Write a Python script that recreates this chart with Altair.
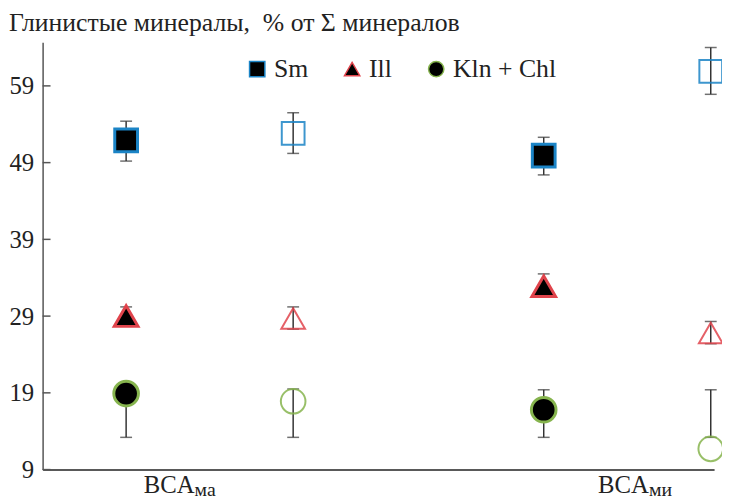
import altair as alt
import pandas as pd

# ---- data ----
minerals = ["Sm", "Ill", "Kln + Chl"]
point_x = [1.0, 2.0, 3.5, 4.5]
point_kind = ["filled", "open", "filled", "open"]

sm_mean = [51.9, 52.8, 49.9, 60.9]
sm_lo = [49.2, 50.2, 47.4, 57.9]
sm_hi = [54.4, 55.5, 52.3, 64.0]

ill_mean = [29.0, 28.7, 32.9, 26.8]
ill_lo = [27.8, 27.3, 31.5, 25.4]
ill_hi = [30.2, 30.2, 34.5, 28.3]

kln_mean = [18.9, 17.9, 16.8, 11.7]
kln_lo = [13.2, 13.2, 13.2, 13.2]
kln_hi = [19.9, 19.5, 19.4, 19.4]

y_ticks = [9, 19, 29, 39, 49, 59]
label_x = [1.41, 4.13]
label_main = ["BCA", "BCA"]
label_sub = ["ма", "ми"]

title_text = "Глинистые минералы,\u2002% от Σ минералов"

# ---- tables ----
rows = []
for m, means, los, his in zip(minerals,
                              [sm_mean, ill_mean, kln_mean],
                              [sm_lo, ill_lo, kln_lo],
                              [sm_hi, ill_hi, kln_hi]):
    for x, k, mu, lo, hi in zip(point_x, point_kind, means, los, his):
        rows.append(dict(mineral=m, msize="s_" + m, x=x, kind=k, mean=mu, lo=lo, hi=hi))
df = pd.DataFrame(rows)
df_ticks = pd.DataFrame({"v": y_ticks})
df_lab = pd.DataFrame({"x": label_x, "main": label_main, "sub": label_sub})

W, H = 679, 432
FONT = "Liberation Serif"

xs = alt.Scale(domain=[0.5, 4.52], nice=False, zero=False)
ys = alt.Scale(domain=[9, 64.67], nice=False, zero=False)
shape_scale = alt.Scale(domain=minerals, range=["square", "triangle-up", "circle"])
stroke_scale = alt.Scale(domain=minerals, range=["#1b84c6", "#e0444c", "#86b44e"])
size_scale = alt.Scale(domain=["s_" + m for m in minerals], range=[530, 620, 400])

x_axis = alt.Axis(labels=False, ticks=False, grid=False, title=None,
                  domainColor="#222", domainWidth=1.5)
y_axis = alt.Axis(values=y_ticks, ticks=False, grid=False, title=None,
                  labelPadding=9, labelFont=FONT, labelFontSize=25,
                  labelColor="#222", domainColor="#555", domainWidth=1.5)

legend = alt.Legend(orient="none", legendX=204, legendY=14, direction="horizontal",
                    title=None, labelFont=FONT, labelFontSize=26, labelColor="#222",
                    symbolSize=240, symbolStrokeWidth=1.5, symbolFillColor="black",
                    columnPadding=31, labelOffset=4, padding=0)


def X(f="x:Q"):
    return alt.X(f, scale=xs, axis=x_axis)


def Y(f):
    return alt.Y(f, scale=ys, axis=y_axis)


base = alt.Chart(df)

bars = base.mark_rule(color="#333", strokeWidth=1.5).encode(
    x=X(), y=Y("lo:Q"), y2="hi:Q",
)
cap_lo = base.mark_tick(orient="horizontal", size=12, thickness=1.5, color="#333").encode(
    x=X(), y=Y("lo:Q"),
)
cap_hi = base.mark_tick(orient="horizontal", size=12, thickness=1.5, color="#333").encode(
    x=X(), y=Y("hi:Q"),
)

filled_pts = base.transform_filter(alt.datum.kind == "filled").mark_point(
    filled=True, fill="black", strokeWidth=3, opacity=1
).encode(
    x=X(), y=Y("mean:Q"),
    shape=alt.Shape("mineral:N", scale=shape_scale, legend=legend),
    stroke=alt.Stroke("mineral:N", scale=stroke_scale, legend=legend),
    size=alt.Size("msize:N", scale=size_scale, legend=None),
)

open_pts = base.transform_filter(alt.datum.kind == "open").mark_point(
    filled=False, strokeWidth=2, opacity=1, strokeOpacity=0.85
).encode(
    x=X(), y=Y("mean:Q"),
    shape=alt.Shape("mineral:N", scale=shape_scale, legend=legend),
    stroke=alt.Stroke("mineral:N", scale=stroke_scale, legend=legend),
    size=alt.Size("msize:N", scale=size_scale, legend=None),
)

inner_ticks = alt.Chart(df_ticks).mark_rule(color="#555", strokeWidth=1.5).encode(
    y=Y("v:Q"),
    x=alt.value(0),
    x2=alt.value(8),
)

lab_main = alt.Chart(df_lab).mark_text(
    font=FONT, fontSize=25, align="right", baseline="alphabetic", color="#222"
).encode(
    x=X(), y=alt.value(H + 24), text="main:N",
)
lab_sub = alt.Chart(df_lab).mark_text(
    font=FONT, fontSize=20, align="left", baseline="alphabetic", color="#222"
).encode(
    x=X(), y=alt.value(H + 27), text="sub:N",
)

chart = alt.layer(
    bars, cap_lo, cap_hi, inner_ticks, filled_pts, open_pts, lab_main, lab_sub
).properties(
    width=W, height=H,
    title=alt.TitleParams(title_text, anchor="start", dx=0, offset=6,
                          font=FONT, fontSize=26, fontWeight="normal", color="#222"),
    autosize=alt.AutoSizeParams(type="none"),
    padding={"left": 35, "top": 32, "right": 8, "bottom": 28},
).configure_view(stroke=None)

chart.save("out.html", embed_options={"renderer": "svg", "actions": False})
